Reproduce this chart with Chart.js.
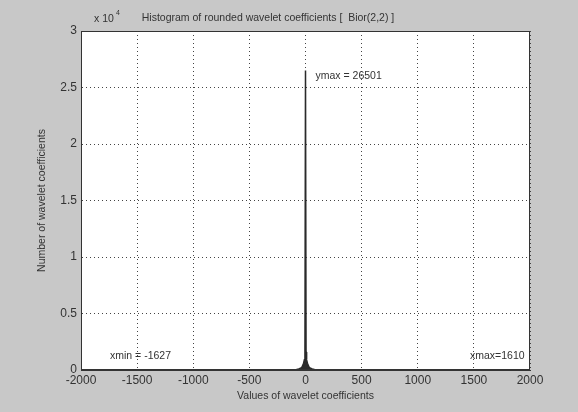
<!DOCTYPE html>
<html>
<head>
<meta charset="utf-8">
<script src="https://cdn.jsdelivr.net/npm/chart.js@4.4.0/dist/chart.umd.min.js"></script>
<style>
  html, body { margin: 0; padding: 0; background: #c8c8c8; }
  #wrap { width: 578px; height: 412px; }
</style>
</head>
<body>
<div id="wrap"><canvas id="hist" width="578" height="412"></canvas></div>
<script>
// histogram of rounded wavelet coefficients
var binValues = [-1627, -400, -200, -120, -80, -60, -40, -30, -20, -10, -5, 0, 5, 10, 20, 30, 40, 60, 80, 120, 200, 400, 1610];
var binCounts = [1, 2, 5, 20, 40, 90, 180, 300, 500, 900, 1600, 26501, 1600, 900, 500, 300, 180, 90, 40, 20, 5, 2, 1];
var xTicks = [-2000, -1500, -1000, -500, 0, 500, 1000, 1500, 2000];
var yTicks = [0, 5000, 10000, 15000, 20000, 25000, 30000];
var titleText = 'Histogram of rounded wavelet coefficients [  Bior(2,2) ]';

var font = '"Liberation Sans", Arial, sans-serif';
var textColor = '#333333';

var points = binValues.map(function(v, i) {
    return { x: v, y: binCounts[i] };
});

var matlabLook = {
    id: 'matlabLook',
    beforeDraw: function(chart) {
        var a = chart.chartArea, ctx = chart.ctx;
        ctx.save();
        ctx.fillStyle = '#ffffff';
        ctx.fillRect(a.left, a.top, a.right - a.left, a.bottom - a.top);
        ctx.restore();
    },
    afterDraw: function(chart) {
        var a = chart.chartArea, ctx = chart.ctx;
        var xs = chart.scales.x, ys = chart.scales.y;
        ctx.save();
        ctx.strokeStyle = '#333';
        ctx.lineWidth = 1;
        ctx.strokeRect(a.left + 0.5, a.top + 0.5, a.right - a.left - 1, a.bottom - a.top - 1);

        ctx.fillStyle = textColor;
        ctx.font = '10.5px ' + font;
        ctx.textAlign = 'center';
        ctx.textBaseline = 'alphabetic';
        ctx.fillText(titleText, 268, 21);

        ctx.textAlign = 'left';
        ctx.font = '10.5px ' + font;
        ctx.fillText('x 10', 94, 22);
        ctx.font = '7px ' + font;
        ctx.fillText('4', 116, 15);

        var imax = binCounts.indexOf(Math.max.apply(null, binCounts));
        ctx.font = '10.5px ' + font;
        ctx.fillText('ymax = ' + binCounts[imax], xs.getPixelForValue(binValues[imax]) + 10, ys.getPixelForValue(binCounts[imax]) + 8);
        ctx.fillText('xmin = ' + binValues[0], 110, 359);
        ctx.fillText('xmax=' + binValues[binValues.length - 1], 470, 359);
        ctx.restore();
    }
};

new Chart(document.getElementById('hist'), {
    type: 'line',
    data: {
        datasets: [{
            data: points,
            borderColor: '#2a2a2a',
            backgroundColor: '#2a2a2a',
            borderWidth: 1.5,
            pointRadius: 0,
            fill: 'origin',
            tension: 0
        }]
    },
    options: {
        responsive: false,
        animation: false,
        layout: { padding: { top: 31, right: 48, left: 0, bottom: 0 } },
        plugins: {
            legend: { display: false },
            tooltip: { enabled: false }
        },
        scales: {
            x: {
                type: 'linear',
                min: -2000,
                max: 2000,
                afterBuildTicks: function(scale) {
                    scale.ticks = xTicks.map(function(v) { return { value: v }; });
                },
                afterFit: function(scale) { scale.height = 42; },
                ticks: {
                    color: textColor,
                    font: { family: font, size: 12 },
                    padding: 3,
                    maxRotation: 0,
                    callback: function(v) { return String(v); }
                },
                grid: { color: '#444', lineWidth: 1, tickLength: 0 },
                border: { display: true, color: '#333', dash: [1, 3] },
                title: {
                    display: true,
                    text: 'Values of wavelet coefficients',
                    color: textColor,
                    font: { family: font, size: 10.5 },
                    padding: { top: 0, bottom: 10 }
                }
            },
            y: {
                type: 'linear',
                min: 0,
                max: 30000,
                afterBuildTicks: function(scale) {
                    scale.ticks = yTicks.map(function(v) { return { value: v }; });
                },
                afterFit: function(scale) { scale.width = 81; },
                ticks: {
                    color: textColor,
                    font: { family: font, size: 12 },
                    padding: 4,
                    callback: function(v) { return String(v / 10000); }
                },
                grid: { color: '#444', lineWidth: 1, tickLength: 0 },
                border: { display: true, color: '#333', dash: [1, 3] },
                title: {
                    display: true,
                    text: 'Number of wavelet coefficients',
                    color: textColor,
                    font: { family: font, size: 10.5 },
                    padding: { top: 36, bottom: 0 }
                }
            }
        }
    },
    plugins: [matlabLook]
});
</script>
</body>
</html>
